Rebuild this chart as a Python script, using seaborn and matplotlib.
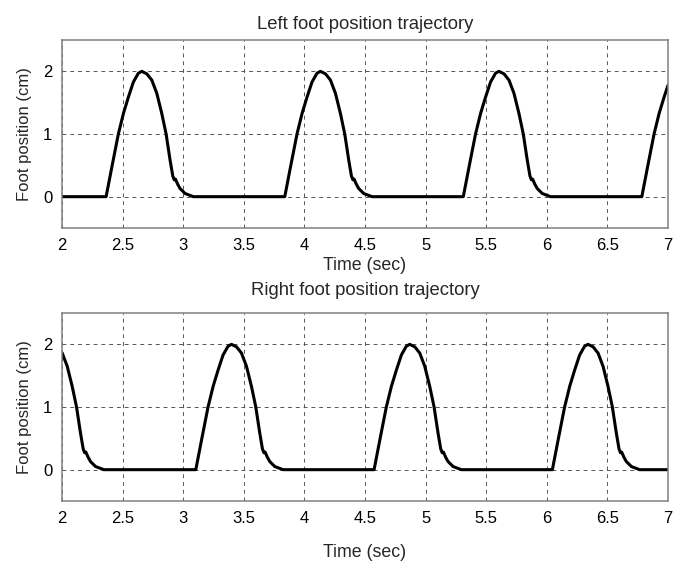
import numpy as np
import pandas as pd
import matplotlib
matplotlib.use("Agg")
import matplotlib.pyplot as plt
import seaborn as sns

# Pulse profile (time offset from lift-off in s, height in cm)
profile_dt = [0.000, 0.050, 0.101, 0.143, 0.184, 0.225, 0.266, 0.294, 0.336,
              0.377, 0.418, 0.459, 0.495, 0.528, 0.550, 0.562, 0.572, 0.590,
              0.610, 0.652, 0.720]
profile_y = [0.00, 0.50, 1.00, 1.33, 1.59, 1.83, 1.97, 2.00, 1.96,
             1.86, 1.65, 1.33, 1.00, 0.58, 0.33, 0.27, 0.28, 0.20,
             0.13, 0.05, 0.00]

# Lift-off times
left_onsets = [2.364, 3.838, 5.311, 6.784]
right_onsets = [1.625, 3.104, 4.575, 6.046]

t_start, t_end = 2.0, 7.0
x_ticks = [2, 2.5, 3, 3.5, 4, 4.5, 5, 5.5, 6, 6.5, 7]
x_ticklabels = ["2", "2.5", "3", "3.5", "4", "4.5", "5", "5.5", "6", "6.5", "7"]
y_ticks = [0, 1, 2]
titles = ["Left foot position trajectory", "Right foot position trajectory"]


def trajectory(onsets):
    t = [onsets[0] - 5.0]
    y = [0.0]
    for on in onsets:
        for dt, v in zip(profile_dt, profile_y):
            t.append(on + dt)
            y.append(v)
    t.append(onsets[-1] + 5.0)
    y.append(0.0)
    t = np.array(t)
    y = np.array(y)
    y0 = np.interp(t_start, t, y)
    y1 = np.interp(t_end, t, y)
    mask = (t > t_start) & (t < t_end)
    t = np.concatenate([[t_start], t[mask], [t_end]])
    y = np.concatenate([[y0], y[mask], [y1]])
    return pd.DataFrame({"Time": t, "Position": y})


sns.set_style("white")
plt.rcParams["font.family"] = ["Liberation Sans", "DejaVu Sans"]

fig = plt.figure(figsize=(6.84, 5.61), dpi=100)
ax1 = fig.add_axes([62 / 684, 1 - 228 / 561, 606 / 684, 188 / 561])
ax2 = fig.add_axes([62 / 684, 1 - 501 / 561, 606 / 684, 188 / 561])

for ax, onsets, title, xpad, tpad in zip([ax1, ax2], [left_onsets, right_onsets],
                                         titles, [3, 13], [8, 13]):
    df = trajectory(onsets)
    sns.lineplot(data=df, x="Time", y="Position", ax=ax, color="black",
                 linewidth=2.2, sort=False, estimator=None)
    ax.set_xlim(t_start, t_end)
    ax.set_ylim(-0.5, 2.5)
    ax.set_xticks(x_ticks)
    ax.set_xticklabels(x_ticklabels)
    ax.set_yticks(y_ticks)
    ax.grid(True, linestyle=(0, (4, 4)), color="#555555", linewidth=0.7)
    for s in ax.spines.values():
        s.set_color("#808080")
        s.set_linewidth(1.1)
    ax.tick_params(axis="both", direction="in", length=0, labelsize=12,
                   colors="black", pad=7)
    ax.set_xlabel("Time (sec)", fontsize=12.8, labelpad=xpad)
    ax.set_ylabel("Foot position (cm)", fontsize=12, labelpad=8)
    ax.set_title(title, fontsize=13.3, pad=tpad)

fig.savefig("out.png", dpi=100)
